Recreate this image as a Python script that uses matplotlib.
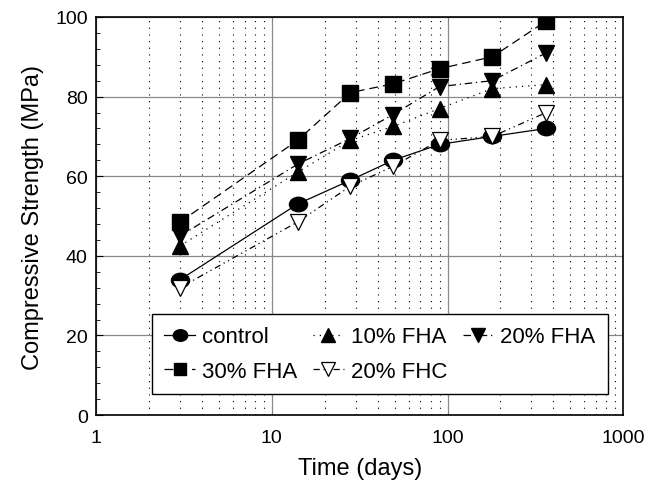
import numpy as np
import matplotlib
matplotlib.use('Agg')
import matplotlib.pyplot as plt
from matplotlib.path import Path
from matplotlib.ticker import LogLocator, MultipleLocator, FixedLocator, FixedFormatter

plt.rcParams['font.family'] = ['Liberation Sans', 'DejaVu Sans']

days = [3, 14, 28, 49, 90, 180, 365]
control = [34, 53, 59, 64, 68, 70, 72]
fha10 = [42.5, 61, 69, 72.5, 77, 82, 83]
fha20 = [45, 63, 69.5, 75.5, 82.5, 84, 91]
fha30 = [48.5, 69, 81, 83.2, 87, 90, 99]
fhc20 = [32, 48.5, 57.5, 62.5, 69, 70, 76]

# slightly flattened circle, like the original symbols
circ = Path.unit_circle()
ellipse = Path(circ.vertices * np.array([1.0, 0.8]), circ.codes)

fig = plt.figure(figsize=[6.54, 4.85], dpi=100)
ax = fig.add_axes([0.147, 0.142, 0.806, 0.821])

ms = 12
h_ctrl, = ax.plot(days, control, color='black', lw=0.9, ls='-', marker=ellipse, ms=ms + 1, label='control')
h_10, = ax.plot(days, fha10, color='black', lw=0.9, ls=(0, (1, 4)), marker='^', ms=ms, label='10% FHA')
h_20, = ax.plot(days, fha20, color='black', lw=0.9, ls=(0, (6, 3, 1, 3)), marker='v', ms=ms, label='20% FHA')
h_30, = ax.plot(days, fha30, color='black', lw=0.9, ls=(0, (7, 4)), marker='s', ms=ms - 1, label='30% FHA')
h_c, = ax.plot(days, fhc20, color='black', lw=0.9, ls=(0, (5, 3, 1, 3, 1, 3)), marker='v', ms=ms,
               mfc='white', mew=0.9, label='20% FHC')

ax.set_xscale('log')
ax.set_xlim(1, 1000)
ax.set_ylim(0, 100)
ax.xaxis.set_major_locator(FixedLocator([1, 10, 100, 1000]))
ax.xaxis.set_major_formatter(FixedFormatter(['1', '10', '100', '1000']))
ax.xaxis.set_minor_locator(LogLocator(base=10, subs=np.arange(2, 10)))
ax.xaxis.set_minor_formatter(FixedFormatter([]))
ax.yaxis.set_major_locator(MultipleLocator(20))
ax.yaxis.set_minor_locator(MultipleLocator(4))

ax.grid(which='major', color='#888888', lw=0.9, ls='-')
ax.grid(which='minor', axis='x', color='black', lw=0.8, ls=(0, (1, 5)))
ax.set_axisbelow(True)

ax.tick_params(which='both', direction='in', labelsize=14)
ax.tick_params(axis='x', which='both', length=0, pad=10)
ax.tick_params(axis='y', which='major', length=5, pad=6)
ax.tick_params(axis='y', which='minor', length=3)
for s in ax.spines.values():
    s.set_linewidth(1.2)

ax.set_xlabel('Time (days)', fontsize=17, labelpad=8)
ax.set_ylabel('Compressive Strength (MPa)', fontsize=17, labelpad=8)

leg = ax.legend([h_ctrl, h_30, h_10, h_c, h_20],
                ['control', '30% FHA', '10% FHA', '20% FHC', '20% FHA'],
                ncol=3, loc='lower left', bbox_to_anchor=(0.106, 0.053), borderaxespad=0,
                fontsize=16, frameon=True, fancybox=False, edgecolor='black',
                handlelength=1.4, handletextpad=0.3, columnspacing=0.7,
                borderpad=0.55, labelspacing=0.6, markerscale=0.8)
leg.get_frame().set_linewidth(1.0)
leg.get_frame().set_alpha(1)

fig.savefig('out.png', dpi=100)
